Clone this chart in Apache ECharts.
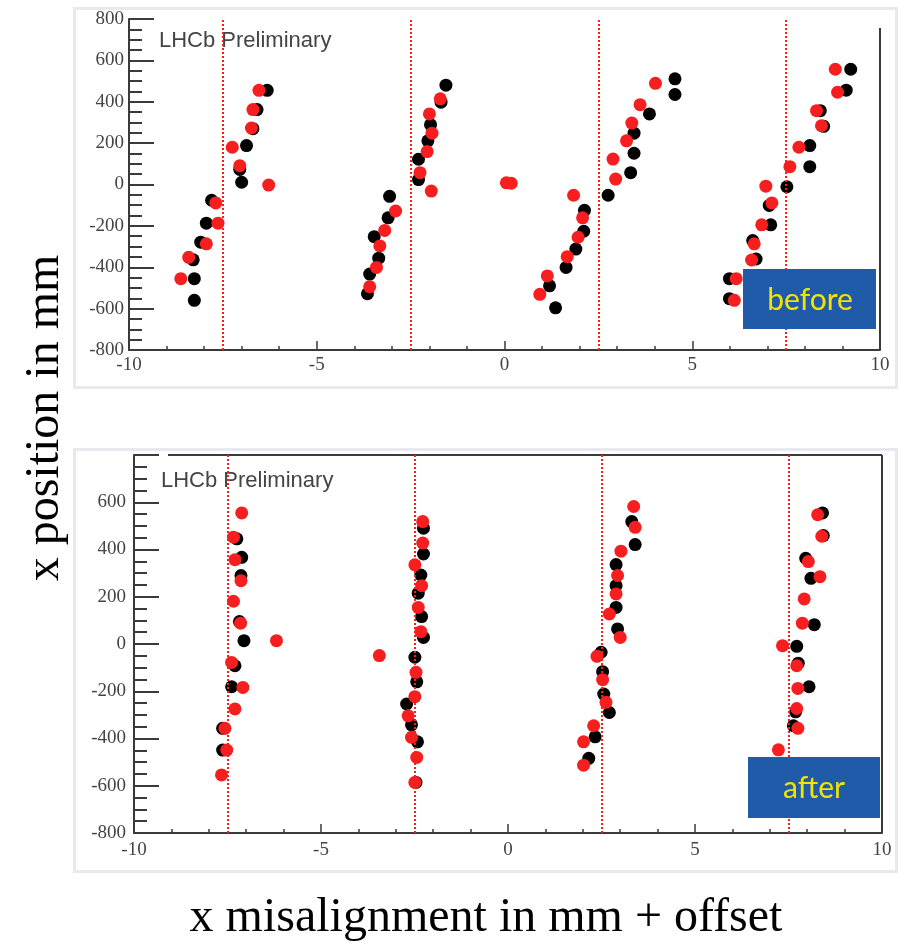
<!DOCTYPE html>
<html>
<head>
<meta charset="utf-8">
<script src="https://cdn.jsdelivr.net/npm/echarts@6/dist/echarts.min.js"></script>
<style>
html,body{margin:0;padding:0;background:#fff;}
#chart{width:899px;height:944px;}
</style>
</head>
<body>
<div id="chart"></div>
<script>
// ---- data (x misalignment + offset [mm], x position [mm]) ----
const xTicks = [-10, -5, 0, 5, 10];
const yTicks = [-800, -600, -400, -200, 0, 200, 400, 600, 800];
const refLines = [-7.5, -2.5, 2.5, 7.5];

const beforeBlack = [
  [-6.32,455],[-6.59,362],[-6.70,270],[-6.87,188],[-7.05,73],[-7.0,11],[-7.80,-76],[-7.94,-187],[-8.09,-279],[-8.29,-364],[-8.26,-455],[-8.26,-560],
  [-1.56,480],[-1.69,398],[-1.97,289],[-2.04,211],[-2.29,122],[-2.29,24],[-3.06,-57],[-3.10,-161],[-3.47,-252],[-3.35,-356],[-3.59,-433],[-3.65,-528],
  [2.13,-125],[2.11,-226],[1.90,-312],[1.64,-401],[1.20,-490],[1.36,-596],
  [4.54,511],[4.54,435],[3.86,341],[3.45,248],[3.45,151],[3.36,57],[2.76,-52],
  [9.22,557],[9.10,456],[8.41,357],[8.50,281],[8.13,188],[8.13,86],[7.52,-11],[7.05,-101],[7.09,-195],[6.61,-271],[6.70,-360],[5.99,-455],[5.99,-552]
];
const beforeRed = [
  [-6.54,455],[-6.70,362],[-6.74,273],[-7.25,180],[-7.05,91],[-6.28,-3],[-7.69,-89],[-7.63,-187],[-7.94,-287],[-8.41,-352],[-8.62,-455],
  [-1.71,414],[-2.0,341],[-1.93,248],[-2.06,159],[-2.25,57],[-1.95,-32],[-2.90,-128],[-3.19,-222],[-3.32,-297],[-3.41,-401],[-3.59,-494],
  [0.05,8],[0.18,6],
  [1.84,-52],[2.08,-161],[1.96,-255],[1.67,-349],[1.14,-442],[0.94,-531],
  [4.02,489],[3.61,386],[3.39,297],[3.25,211],[2.89,123],[2.96,26],
  [8.81,557],[8.87,446],[8.31,357],[8.44,284],[7.84,180],[7.60,86],[6.96,-8],[7.12,-89],[6.85,-195],[6.65,-287],[6.58,-365],[6.17,-455],[6.12,-560]
];
const afterBlack = [
  [-7.25,445],[-7.12,367],[-7.14,290],[-7.18,95],[-7.06,14],[-7.30,-92],[-7.39,-181],[-7.63,-357],[-7.63,-449],
  [-2.26,490],[-2.26,381],[-2.33,292],[-2.40,215],[-2.31,116],[-2.26,28],[-2.49,-56],[-2.44,-160],[-2.71,-254],[-2.58,-342],[-2.42,-414],[-2.46,-586],
  [3.31,518],[3.40,421],[2.89,336],[2.89,247],[2.89,155],[2.93,64],[2.49,-35],[2.53,-117],[2.56,-212],[2.71,-290],[2.33,-393],[2.16,-484],
  [8.41,555],[8.43,459],[7.96,363],[8.10,278],[8.19,82],[7.72,-10],[7.76,-81],[8.05,-181],[7.69,-287],[7.63,-346]
];
const afterRed = [
  [-7.12,555],[-7.34,452],[-7.30,357],[-7.14,268],[-7.34,181],[-7.15,88],[-6.19,14],[-7.39,-78],[-7.09,-184],[-7.30,-275],[-7.57,-357],[-7.52,-449],[-7.66,-554],
  [-3.44,-49],
  [-2.28,518],[-2.28,427],[-2.49,335],[-2.31,247],[-2.40,155],[-2.33,52],[-2.46,-120],[-2.49,-223],[-2.67,-304],[-2.58,-395],[-2.44,-480],[-2.49,-586],
  [3.36,582],[3.40,494],[3.02,393],[2.93,290],[2.89,212],[2.71,127],[3.00,28],[2.38,-52],[2.53,-151],[2.62,-247],[2.29,-346],[2.02,-414],[2.02,-513],
  [8.28,547],[8.39,456],[8.03,349],[8.34,285],[7.92,191],[7.87,88],[7.34,-7],[7.72,-92],[7.75,-188],[7.72,-273],[7.75,-357],[7.23,-448]
];

// ---- styling ----
const AX = '#3a3a3a';
const RED = '#f61e1e';
const SERIF = '"Liberation Serif", "DejaVu Serif", serif';
const SANS = '"Liberation Sans", Arial, sans-serif';

function makeX(gi, margin) {
  return {
    type: 'value', gridIndex: gi,
    min: xTicks[0], max: xTicks[xTicks.length - 1], interval: xTicks[1] - xTicks[0],
    axisLine: { show: true, onZero: false, lineStyle: { color: AX, width: 2 } },
    axisTick: { show: true, inside: true, length: 9, lineStyle: { color: AX, width: 1.5 } },
    minorTick: { show: true, splitNumber: 5, length: 4, lineStyle: { color: AX, width: 1.5 } },
    splitLine: { show: false },
    axisLabel: { fontFamily: SERIF, fontSize: 19, color: '#444', margin: margin }
  };
}
function makeY(gi, margin, hideTop) {
  return {
    type: 'value', gridIndex: gi,
    min: yTicks[0], max: yTicks[yTicks.length - 1], interval: yTicks[1] - yTicks[0],
    axisLine: { show: true, onZero: false, lineStyle: { color: AX, width: 2 } },
    axisTick: { show: true, inside: true, length: 25, lineStyle: { color: AX, width: 2 } },
    minorTick: { show: true, splitNumber: 4, length: 13, lineStyle: { color: AX, width: 2 } },
    splitLine: { show: false },
    axisLabel: {
      fontFamily: SERIF, fontSize: 19, color: '#444', margin: margin,
      formatter: function (v) { return (hideTop && v === yTicks[yTicks.length - 1]) ? '' : String(v); }
    }
  };
}
function refMarkLine() {
  return {
    silent: true, symbol: 'none', animation: false,
    label: { show: false },
    lineStyle: { color: RED, type: [2, 2], width: 2 },
    data: refLines.map(v => ({ xAxis: v }))
  };
}
function scatter(data, color, gi, withLines) {
  const s = {
    type: 'scatter', xAxisIndex: gi, yAxisIndex: gi, data: data,
    symbol: 'circle', symbolSize: 13,
    itemStyle: { color: color, opacity: 1 },
    animation: false
  };
  if (withLines) s.markLine = refMarkLine();
  return s;
}

const chart = echarts.init(document.getElementById('chart'), null, { renderer: 'canvas' });
chart.setOption({
  backgroundColor: '#ffffff',
  animation: false,
  grid: [
    { left: 129, top: 19, width: 751, height: 331 },
    { left: 134, top: 455, width: 748, height: 378 }
  ],
  xAxis: [makeX(0, 6), makeX(1, 8)],
  yAxis: [makeY(0, 5, false), makeY(1, 8, true)],
  series: [
    scatter(beforeBlack, '#000000', 0, true),
    scatter(beforeRed, RED, 0, false),
    scatter(afterBlack, '#000000', 1, true),
    scatter(afterRed, RED, 1, false)
  ],
  graphic: {
    elements: [
      // panel image boxes
      { type: 'rect', z: -5, silent: true, shape: { x: 74.5, y: 8.5, width: 822, height: 379 },
        style: { fill: '#ffffff', stroke: '#e6e9ee', lineWidth: 3 } },
      { type: 'rect', z: -5, silent: true, shape: { x: 74.5, y: 449.5, width: 822, height: 422 },
        style: { fill: '#ffffff', stroke: '#e6e9ee', lineWidth: 3 } },
      // frame lines
      { type: 'line', z: 5, silent: true, shape: { x1: 880, y1: 28, x2: 880, y2: 350 },
        style: { stroke: AX, lineWidth: 2 } },
      { type: 'line', z: 5, silent: true, shape: { x1: 168, y1: 455, x2: 882, y2: 455 },
        style: { stroke: AX, lineWidth: 2 } },
      { type: 'line', z: 5, silent: true, shape: { x1: 882, y1: 455, x2: 882, y2: 833 },
        style: { stroke: AX, lineWidth: 2 } },
      // LHCb Preliminary
      { type: 'text', z: 1, silent: true, left: 159, top: 30,
        style: { text: 'LHCb Preliminary', font: '22px ' + SANS, fill: '#444' } },
      { type: 'text', z: 1, silent: true, left: 161, top: 470,
        style: { text: 'LHCb Preliminary', font: '22px ' + SANS, fill: '#444' } },
      // before / after boxes
      { type: 'rect', z: 20, silent: true, shape: { x: 743, y: 269, width: 133, height: 60 },
        style: { fill: '#1f5ba8' } },
      { type: 'text', z: 21, silent: true, x: 810, y: 300,
        style: { text: 'before', font: '30px Lato, "Open Sans", sans-serif', fill: '#f2e400', align: 'center', verticalAlign: 'middle' } },
      { type: 'rect', z: 20, silent: true, shape: { x: 748, y: 757, width: 132, height: 61 },
        style: { fill: '#1f5ba8' } },
      { type: 'text', z: 21, silent: true, x: 814, y: 788,
        style: { text: 'after', font: '30px Lato, "Open Sans", sans-serif', fill: '#f2e400', align: 'center', verticalAlign: 'middle' } },
      // axis titles
      { type: 'text', z: 1, silent: true, x: 45, y: 418, rotation: Math.PI / 2,
        style: { text: 'x position in mm', font: '48px ' + SERIF, fill: '#000', align: 'center', verticalAlign: 'middle' } },
      { type: 'text', z: 1, silent: true, x: 486, y: 918,
        style: { text: 'x misalignment in mm + offset', font: '48px ' + SERIF, fill: '#000', align: 'center', verticalAlign: 'middle' } }
    ]
  }
});
</script>
</body>
</html>
